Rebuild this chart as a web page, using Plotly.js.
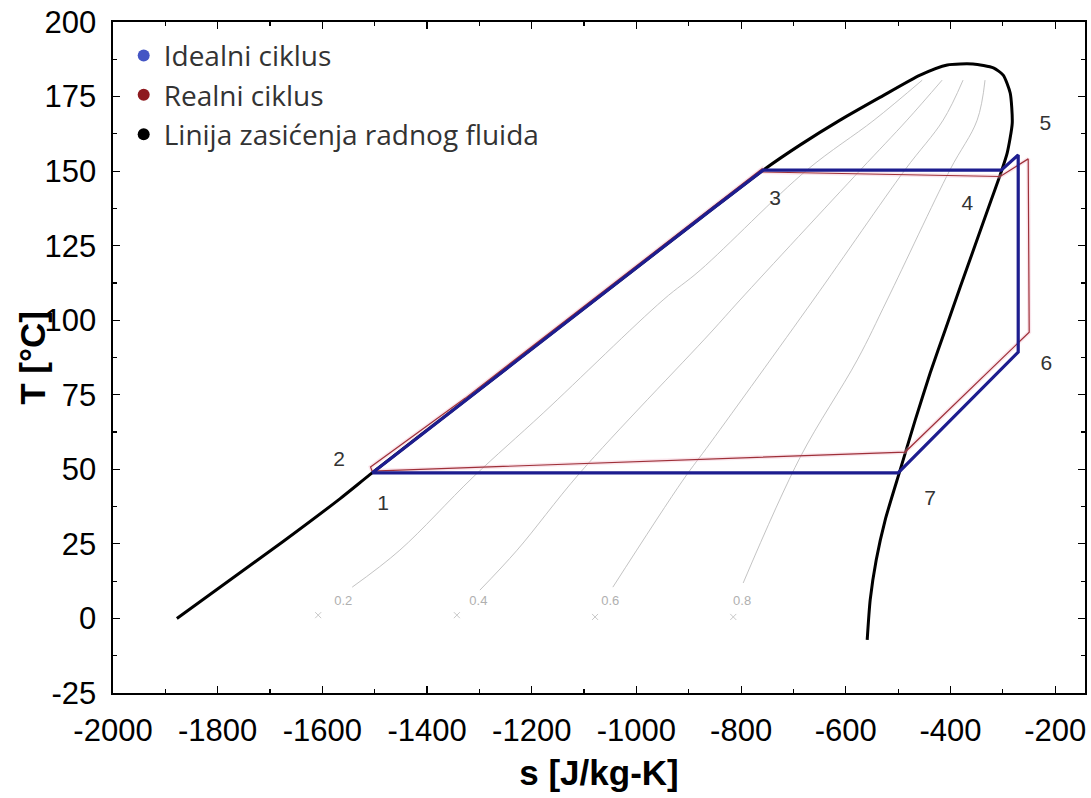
<!DOCTYPE html>
<html>
<head>
<meta charset="utf-8">
<script src="https://cdn.plot.ly/plotly-3.0.1.min.js"></script>
<style>html,body{margin:0;padding:0;background:#fff;}#chart{width:1091px;height:798px;}</style>
</head>
<body>
<div id="chart"></div>
<script>
// Saturation line (liquid + vapour branch)
const sSat = [-1878, -1675, -1566, -1505, -1325.5, -1128.6, -956.6, -857.3, -758, -687, -611, -534, -458, -406, -357, -318, -299.3, -285.9, -282, -291.6, -303.1, -322.2, -352.8, -381.4, -410.1, -438.8, -467.4, -496.1, -524.8, -541.9, -553.4, -559.1];
const TSat = [0, 25.8, 40.2, 48.8, 73.3, 100.1, 123.5, 137, 150.3, 158.8, 167.1, 174.8, 182.2, 185.6, 185.9, 184.6, 182.2, 176.2, 166.1, 156.1, 149.7, 140.3, 125.2, 111.1, 96.7, 82.3, 66.5, 49.8, 33.0, 19.6, 6.2, -7.2];

// Ideal cycle 1-3-4-5-6-7-1
const sIdeal = [-1505, -1325.5, -1128.6, -956.6, -857.3, -758, -303, -270.6, -270.6, -500, -1505];
const TIdeal = [48.8, 73.3, 100.1, 123.5, 137, 150.3, 150.3, 155.4, 89.3, 48.8, 48.8];

// Real cycle 1-2-3-4-5-6-7-1
const sReal = [-1505, -1508, -1327.5, -1130.6, -958.6, -859.3, -760, -758, -305, -251.5, -249.6, -486.6, -1505];
const TReal = [49.4, 50.8, 73.8, 100.6, 124.0, 137.5, 150.8, 149.7, 148.2, 154.1, 96, 55.8, 49.4];

// Constant-quality lines
const q02s = [-1543, -1452, -1312, -1178, -949, -878, -674, -546, -454];
const q02T = [10.5, 22.9, 47.4, 68.9, 106.8, 116.8, 150.4, 167.1, 180.5];
const q04s = [-1299, -1228, -1108, -859, -802, -572, -483, -416];
const q04T = [9.5, 22.9, 48.8, 95.7, 106.8, 150.4, 167.1, 180.5];
const q06s = [-1045, -911, -859, -662, -487, -414, -376];
const q06T = [10.5, 46.4, 58.8, 106.8, 150.4, 167.1, 180.5];
const q08s = [-796, -687, -578, -521, -401, -349, -334];
const q08T = [11.9, 54.1, 86.7, 106.8, 150.4, 167.1, 180.5];

const qLabels = ['0.2', '0.4', '0.6', '0.8'];
const qLabelS = [-1560, -1302, -1050, -798];
const qLabelT = [5.5, 5.5, 5.5, 5.5];
const qMarkS = [-1608, -1343, -1079, -815];
const qMarkT = [1.1, 1.1, 0.5, 0.5];

const ptLabels = ['1', '2', '3', '4', '5', '6', '7'];
const ptLabelS = [-1484, -1568, -735, -368, -219, -217, -439];
const ptLabelT = [38.0, 52.8, 140.3, 138.6, 165.5, 85, 39.7];

const xTickVals = [-2000, -1800, -1600, -1400, -1200, -1000, -800, -600, -400, -200];
const xTickText = ['-2000', '-1800', '-1600', '-1400', '-1200', '-1000', '-800', '-600', '-400', '-200'];
const yTickVals = [-25, 0, 25, 50, 75, 100, 125, 150, 175, 200];
const yTickText = ['-25', '0', '25', '50', '75', '100', '125', '150', '175', '200'];

const legendNames = ['Idealni ciklus', 'Realni ciklus', 'Linija zasićenja radnog fluida'];
const legendColors = ['#4455c4', '#8e1a1f', '#000000'];

const grey = '#b4b4b4';
const traces = [];
[[q02s, q02T], [q04s, q04T], [q06s, q06T], [q08s, q08T]].forEach(function (q) {
  traces.push({x: q[0], y: q[1], mode: 'lines', line: {color: grey, width: 0.8, shape: 'spline'}, showlegend: false, hoverinfo: 'skip'});
});
traces.push({x: qMarkS, y: qMarkT, mode: 'markers', marker: {symbol: 'x-thin', size: 6, line: {color: '#c8c8c8', width: 1}}, showlegend: false, hoverinfo: 'skip'});
traces.push({x: qLabelS, y: qLabelT, mode: 'text', text: qLabels, textfont: {family: 'Liberation Sans, Arial', size: 13, color: '#b0b0b0'}, showlegend: false, hoverinfo: 'skip'});
traces.push({x: sSat, y: TSat, mode: 'lines', line: {color: '#000', width: 3, shape: 'spline', smoothing: 0.6}, showlegend: false});
traces.push({x: sReal, y: TReal, mode: 'lines', line: {color: 'rgba(240,180,200,0.35)', width: 4}, showlegend: false, hoverinfo: 'skip'});
traces.push({x: sReal, y: TReal, mode: 'lines', line: {color: '#9e3038', width: 1.2}, showlegend: false});
traces.push({x: sIdeal, y: TIdeal, mode: 'lines', line: {color: '#1d1d8f', width: 3.2}, showlegend: false});
traces.push({x: ptLabelS, y: ptLabelT, mode: 'text', text: ptLabels, textfont: {family: 'Liberation Sans, Arial', size: 21, color: '#333'}, showlegend: false, hoverinfo: 'skip'});
legendNames.forEach(function (n, i) {
  traces.push({x: [null], y: [null], mode: 'markers', name: n, legendgroup: 'g' + i,
    marker: {color: legendColors[i], size: 12}});
});

const axisFont = {family: 'Liberation Sans, Arial', size: 31, color: '#000'};
const titleFont = {family: 'Liberation Sans, Arial', size: 35, color: '#000', weight: 'bold'};
const layout = {
  width: 1091, height: 798,
  margin: {l: 113, r: 6, t: 22, b: 105},
  paper_bgcolor: '#fff', plot_bgcolor: '#fff',
  showlegend: true,
  legend: {x: 0.011, y: 0.987, xanchor: 'left', yanchor: 'top', bgcolor: 'rgba(0,0,0,0)',
    font: {family: 'Open Sans, Noto Sans', size: 28, color: '#333'}, traceorder: 'grouped', tracegroupgap: 0, itemwidth: 30},
  xaxis: {range: [-2000, -143], tickmode: 'array', tickvals: xTickVals, ticktext: xTickText,
    ticks: 'inside', ticklen: 7, tickwidth: 1.2, tickcolor: '#000',
    showline: true, linecolor: '#000', linewidth: 1.6, mirror: 'ticks', showgrid: false, zeroline: false,
    tickfont: axisFont, ticklabelstandoff: 9,
    minor: {tickmode: 'linear', tick0: -2000, dtick: 100, ticks: 'inside', ticklen: 4, tickcolor: '#000', showgrid: false},
    title: {text: 's [J/kg-K]', font: titleFont, standoff: 14}},
  yaxis: {range: [-25, 200], tickmode: 'array', tickvals: yTickVals, ticktext: yTickText,
    ticks: 'inside', ticklen: 7, tickwidth: 1.2, tickcolor: '#000',
    showline: true, linecolor: '#000', linewidth: 1.6, mirror: 'ticks', showgrid: false, zeroline: false,
    tickfont: axisFont, ticklabelstandoff: 9,
    minor: {tickmode: 'linear', tick0: -25, dtick: 12.5, ticks: 'inside', ticklen: 4, tickcolor: '#000', showgrid: false}},
  annotations: [{text: 'T [°C]', xref: 'paper', yref: 'paper', x: -0.083, y: 0.5, xanchor: 'center', yanchor: 'middle',
    textangle: -90, showarrow: false, font: titleFont}]
};
Plotly.newPlot('chart', traces, layout, {staticPlot: true, displayModeBar: false});
</script>
</body>
</html>
